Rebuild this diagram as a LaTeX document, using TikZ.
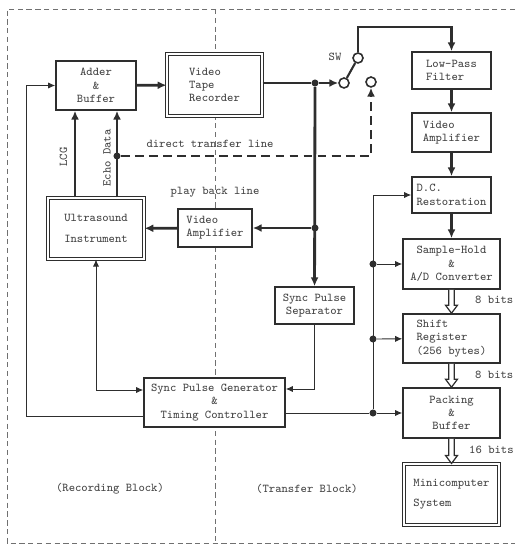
\documentclass[tikz,border=0pt]{standalone}
\usepackage{xcolor}
\usepackage{tikz}
\usetikzlibrary{arrows.meta,positioning,calc}
\definecolor{ink}{HTML}{2E2E2E}
\definecolor{ink2}{HTML}{444444}
\definecolor{frame}{HTML}{707070}

\begin{document}
\begin{tikzpicture}[box/.style={draw=ink,fill=white,line width=0.9pt,inner sep=2pt,align=center,font=\fontsize{6.8}{7.6}\selectfont\ttfamily,text=ink2},
                    dbox/.style={box,double,double distance=1.4pt,line width=0.6pt},
                    lbl/.style={font=\fontsize{6.8}{7.6}\selectfont\ttfamily,text=ink2},
                    sig/.style={draw=ink,line width=1.6pt,-{Latex[length=5pt,width=4.5pt]}},
                    ctl/.style={draw=ink,line width=0.5pt,-{Latex[length=4pt,width=3.5pt]}},
                    jn/.style={circle,fill=ink,inner sep=0pt,minimum size=4pt},
                    sw/.style={circle,draw=ink,fill=white,line width=0.9pt,inner sep=0pt,minimum size=0.2cm}]
  \useasboundingbox (0,0) rectangle (10.3,10.94);
  % frame and block divider
  \draw[frame,line width=0.5pt,dash pattern=on 3pt off 2pt] (10.3,10.76) -- (0.14,10.76) -- (0.14,0.08) -- (10.3,0.08);
  \draw[frame,line width=0.4pt,dash pattern=on 3pt off 2pt] (4.30,10.76) -- (4.30,0.08);
  % recording block
  \node[box,minimum width=1.6cm,minimum height=0.98cm] (adder) at (1.92,9.23) {Adder\\\&\\Buffer};
  \node[dbox,align=left,minimum width=1.9cm,minimum height=1.24cm] (vtr) at (4.29,9.24) {Video\\Tape\\Recorder};
  \node[dbox,minimum width=1.92cm,minimum height=1.22cm] (ultra) at (1.92,6.37) {Ultrasound\\[4pt]Instrument};
  \node[box,align=left,minimum width=1.48cm,minimum height=0.76cm] (vampl) at (4.30,6.38) {Video\\Amplifier};
  \node[box,minimum width=1.58cm,minimum height=0.74cm] (sep) at (6.29,4.83) {Sync Pulse\\Separator};
  \node[box,minimum width=2.82cm,minimum height=0.98cm] (gen) at (4.29,2.89) {Sync Pulse Generator\\\&\\Timing Controller};
  % transfer block
  \node[box,align=left,minimum width=1.58cm,minimum height=0.74cm] (lpf) at (9.03,9.53) {Low-Pass\\Filter};
  \node[box,align=left,minimum width=1.58cm,minimum height=0.78cm] (vampr) at (9.03,8.29) {Video\\Amplifier};
  \node[box,align=left,minimum width=1.58cm,minimum height=0.72cm] (dcr) at (9.03,7.04) {D.C.\\Restoration};
  \node[box,minimum width=1.94cm,minimum height=1.0cm] (sh) at (9.03,5.66) {Sample-Hold\\\&\\A/D Converter};
  \node[box,align=left,minimum width=1.94cm,minimum height=0.98cm] (shift) at (9.03,4.17) {Shift\\Register\\(256 bytes)};
  \node[box,minimum width=1.94cm,minimum height=1.0cm] (pack) at (9.03,2.68) {Packing\\\&\\Buffer};
  \node[dbox,align=left,minimum width=1.9cm,minimum height=1.22cm] (mini) at (9.03,1.05) {Minicomputer\\[4pt]System};
  % switch
  \node[sw] (swa) at (6.88,9.28) {};
  \node[sw] (swb) at (7.16,9.78) {};
  \node[sw] (swc) at (7.42,9.30) {};
  \node[lbl] (swlab) at (6.70,9.80) {SW};
  \draw[ink,line width=1.2pt] (swa) -- (swb);
  % junctions
  \node[jn] (j1) at (6.30,9.28) {};
  \node[jn] (j2) at (6.30,6.38) {};
  \node[jn] (j3) at (2.34,7.82) {};
  \node[jn] (b1) at (7.46,5.66) {};
  \node[jn] (b2) at (7.46,4.16) {};
  \node[jn] (b3) at (7.46,2.68) {};
  \coordinate (top) at (9.03,10.40);
  \coordinate (fb) at (0.52,9.23);
  % signal path
  \draw[sig] (adder) -- (vtr);
  \draw[sig,-] (vtr.east |- j1) -- (j1);
  \draw[sig] (j1) -- (swa);
  \draw[sig] (swb) |- (top) -- (lpf);
  \draw[sig] (lpf) -- (vampr);
  \draw[sig] (vampr) -- (dcr);
  \draw[sig] (dcr) -- (sh);
  \foreach \a/\b in {sh/shift,shift/pack,pack/mini}
    \draw[ink,line width=0.7pt,fill=white] ([xshift=-0.055cm]\a.south) -- ([xshift=-0.055cm,yshift=0.16cm]\b.north)
      -- ([xshift=-0.12cm,yshift=0.16cm]\b.north) -- (\b.north) -- ([xshift=0.12cm,yshift=0.16cm]\b.north)
      -- ([xshift=0.055cm,yshift=0.16cm]\b.north) -- ([xshift=0.055cm]\a.south);
  \draw[sig] (j1) -- (sep);
  \draw[sig] (j2) -- (vampl);
  \draw[sig] (vampl) -- (ultra);
  \draw[sig] ([xshift=-0.42cm]ultra.north) -- ([xshift=-0.42cm]adder.south);
  \draw[sig] ([xshift=0.42cm]ultra.north) -- ([xshift=0.42cm]adder.south);
  \draw[ink,line width=1.4pt,dash pattern=on 5pt off 3pt,-{Latex[length=5pt,width=4.5pt]}] (j3) -| (swc);
  \node[lbl,rotate=90] (lcglab) at (1.27,7.80) {LCG};
  \node[lbl,rotate=90] (echolab) at (2.14,7.78) {Echo Data};
  \node[lbl] (dtl) at (4.20,8.06) {direct transfer line};
  \node[lbl] (pbl) at (4.30,7.10) {play back line};
  % timing lines
  \draw[ctl] (sep) |- ([yshift=0.27cm]gen.east);
  \draw[ctl,{Latex[length=4pt,width=3.5pt]}-{Latex[length=4pt,width=3.5pt]}] (ultra) |- ([yshift=0.25cm]gen.west);
  \draw[ctl] ([yshift=-0.27cm]gen.west) -| (fb) -- (adder);
  \draw[ctl,-] (gen.east |- b3) -- (b3);
  \draw[ctl] (b3) -- (pack);
  \draw[ctl] (b3) |- (dcr);
  \draw[ctl] (b1) -- (sh);
  \draw[ctl] (b2) -- (shift);
  % labels
  \node[lbl,anchor=west,inner sep=0.5pt] (bits1) at (9.48,4.94) {8 bits};
  \node[lbl,anchor=west,inner sep=0.5pt] (bits2) at (9.48,3.44) {8 bits};
  \node[lbl,anchor=west,inner sep=0.5pt] (bits3) at (9.36,1.94) {16 bits};
  \node[lbl] (recblk) at (2.20,1.16) {(Recording Block)};
  \node[lbl] (trblk) at (6.14,1.16) {(Transfer Block)};
\end{tikzpicture}
\end{document}
